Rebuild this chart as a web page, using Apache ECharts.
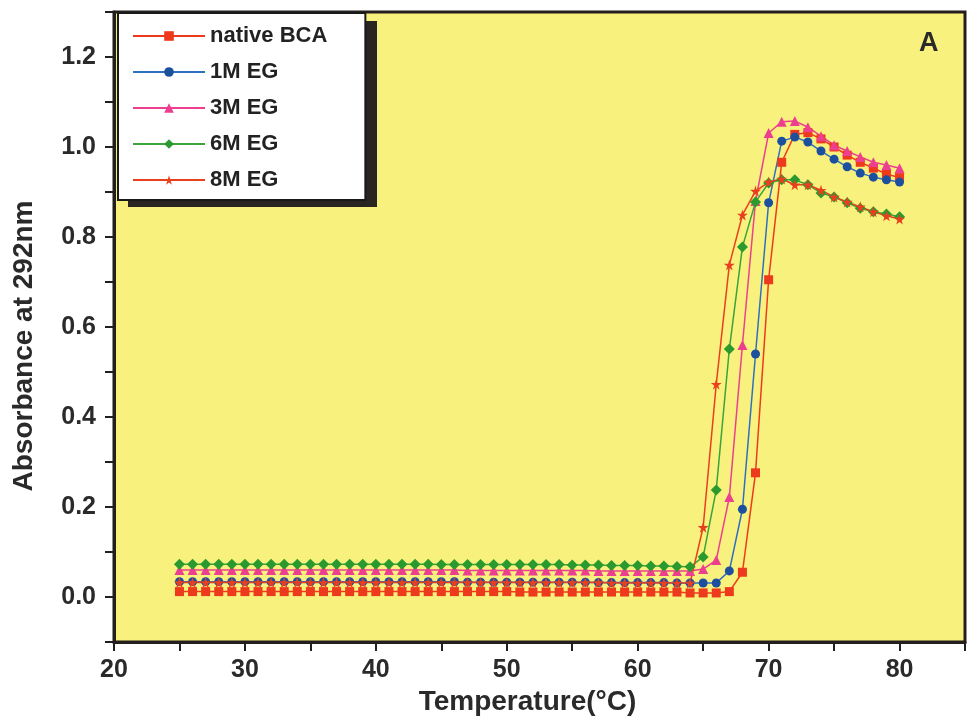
<!DOCTYPE html>
<html>
<head>
<meta charset="utf-8">
<script src="https://cdn.jsdelivr.net/npm/echarts@6/dist/echarts.min.js"></script>
<style>
  html, body { margin: 0; padding: 0; background: #fff; }
  #chart { width: 969px; height: 728px; }
</style>
</head>
<body>
<div id="chart"></div>
<script>
// temperature scan, 1 degree steps
var temps = [
    25, 26, 27, 28, 29, 30, 31, 32, 33, 34,
    35, 36, 37, 38, 39, 40, 41, 42, 43, 44,
    45, 46, 47, 48, 49, 50, 51, 52, 53, 54,
    55, 56, 57, 58, 59, 60, 61, 62, 63, 64,
    65, 66, 67, 68, 69, 70, 71, 72, 73, 74,
    75, 76, 77, 78, 79, 80
]

var native_bca = [
    0.012, 0.012, 0.012, 0.012, 0.012, 0.012, 0.012, 0.012, 0.012, 0.012,
    0.012, 0.012, 0.012, 0.012, 0.012, 0.012, 0.012, 0.012, 0.012, 0.012,
    0.012, 0.012, 0.012, 0.012, 0.012, 0.012, 0.011, 0.011, 0.011, 0.011,
    0.011, 0.011, 0.011, 0.011, 0.011, 0.011, 0.011, 0.011, 0.011, 0.009,
    0.009, 0.009, 0.012, 0.055, 0.276, 0.705, 0.966, 1.028, 1.032, 1.018,
    1.000, 0.982, 0.966, 0.953, 0.940, 0.932
]

var eg_1m = [
    0.034, 0.034, 0.034, 0.034, 0.034, 0.034, 0.034, 0.034, 0.034, 0.034,
    0.034, 0.034, 0.034, 0.034, 0.034, 0.034, 0.034, 0.034, 0.034, 0.034,
    0.034, 0.034, 0.033, 0.033, 0.033, 0.033, 0.033, 0.033, 0.033, 0.033,
    0.033, 0.033, 0.032, 0.032, 0.032, 0.032, 0.032, 0.032, 0.031, 0.031,
    0.031, 0.031, 0.058, 0.195, 0.540, 0.876, 1.013, 1.022, 1.011, 0.991,
    0.973, 0.956, 0.942, 0.933, 0.927, 0.922
]

var eg_3m = [
    0.060, 0.060, 0.060, 0.060, 0.060, 0.060, 0.060, 0.060, 0.060, 0.060,
    0.060, 0.060, 0.060, 0.060, 0.060, 0.060, 0.060, 0.060, 0.060, 0.060,
    0.060, 0.060, 0.059, 0.059, 0.059, 0.059, 0.059, 0.059, 0.059, 0.059,
    0.059, 0.059, 0.058, 0.058, 0.058, 0.058, 0.058, 0.058, 0.058, 0.058,
    0.062, 0.082, 0.222, 0.560, 0.880, 1.031, 1.056, 1.058, 1.044, 1.024,
    1.004, 0.991, 0.978, 0.966, 0.960, 0.953
]

var eg_6m = [
    0.073, 0.073, 0.073, 0.073, 0.073, 0.073, 0.073, 0.073, 0.073, 0.073,
    0.073, 0.073, 0.073, 0.073, 0.073, 0.073, 0.073, 0.073, 0.073, 0.073,
    0.072, 0.072, 0.072, 0.072, 0.072, 0.072, 0.072, 0.072, 0.072, 0.072,
    0.071, 0.071, 0.071, 0.070, 0.070, 0.070, 0.069, 0.069, 0.068, 0.067,
    0.089, 0.238, 0.551, 0.778, 0.878, 0.920, 0.927, 0.927, 0.916, 0.898,
    0.889, 0.876, 0.864, 0.856, 0.851, 0.845
]

var eg_8m = [
    0.032, 0.032, 0.032, 0.032, 0.032, 0.032, 0.032, 0.032, 0.032, 0.032,
    0.032, 0.032, 0.032, 0.032, 0.032, 0.032, 0.032, 0.032, 0.032, 0.032,
    0.032, 0.032, 0.032, 0.032, 0.032, 0.032, 0.032, 0.032, 0.032, 0.032,
    0.032, 0.032, 0.032, 0.031, 0.031, 0.031, 0.031, 0.031, 0.031, 0.031,
    0.155, 0.473, 0.738, 0.849, 0.902, 0.922, 0.929, 0.916, 0.916, 0.904,
    0.889, 0.878, 0.867, 0.856, 0.847, 0.840
]

var series_names = ['native BCA', '1M EG', '3M EG', '6M EG', '8M EG']

var star = 'path://M50,0 L61,35 L98,35 L68,57 L79,91 L50,70 L21,91 L32,57 L2,35 L39,35 Z'
var font = 'Liberation Sans, Arial, sans-serif'

function pairs(ys) {
    return temps.map(function (t, i) {
        return [t, ys[i]];
    });
}

function make_series(name, ys, symbol, size, color, lineColor) {
    return {
        name: name,
        type: 'line',
        data: pairs(ys),
        symbol: symbol,
        symbolSize: size,
        showAllSymbol: true,
        itemStyle: {color: color},
        lineStyle: {color: lineColor, width: 1.5},
        emphasis: {disabled: true},
        animation: false
    };
}

var option = {
    backgroundColor: '#ffffff',
    textStyle: {fontFamily: font},
    grid: {
        left: 114,
        right: 4,
        top: 12,
        bottom: 86,
        outerBoundsMode: 'none',
        show: true,
        backgroundColor: '#f8f17d',
        borderColor: '#231f1c',
        borderWidth: 3
    },
    legend: {
        orient: 'vertical',
        left: 118,
        top: 13,
        z: 5,
        padding: [11, 38, 8, 14],
        itemGap: 12,
        itemWidth: 72,
        itemHeight: 12,
        backgroundColor: '#ffffff',
        borderColor: '#1a1a1a',
        borderWidth: 2,
        textStyle: {
            fontSize: 22,
            fontWeight: 'bold',
            color: '#222',
            fontFamily: font,
            lineHeight: 24
        },
        data: series_names
    },
    xAxis: {
        type: 'value',
        min: 20,
        max: 85,
        interval: 5,
        name: 'Temperature(°C)',
        nameLocation: 'middle',
        nameGap: 46,
        nameTextStyle: {fontSize: 28, fontWeight: 'bold', color: '#2a2a2a', fontFamily: font, padding: [0, 24, 0, 0]},
        axisLine: {onZero: false, lineStyle: {color: '#231f1c', width: 3}},
        axisTick: {show: true, length: 9, lineStyle: {color: '#231f1c', width: 2}},
        axisLabel: {
            fontSize: 25,
            fontWeight: 'bold',
            color: '#2a2a2a',
            margin: 16,
            formatter: function (v) {
                return v % 10 === 0 ? String(v) : '';
            }
        },
        splitLine: {show: false}
    },
    yAxis: {
        type: 'value',
        min: -0.1,
        max: 1.3,
        interval: 0.1,
        name: 'Absorbance at 292nm',
        nameLocation: 'middle',
        nameGap: 76,
        nameTextStyle: {fontSize: 28, fontWeight: 'bold', color: '#2a2a2a', fontFamily: font, padding: [0, 38, 0, 0]},
        axisLine: {onZero: false, lineStyle: {color: '#231f1c', width: 3}},
        axisTick: {show: true, length: 9, lineStyle: {color: '#231f1c', width: 2}},
        axisLabel: {
            fontSize: 25,
            fontWeight: 'bold',
            color: '#2a2a2a',
            margin: 18,
            formatter: function (v) {
                var k = Math.round(v * 10);
                return k % 2 === 0 ? (k / 10).toFixed(1) : '';
            }
        },
        splitLine: {show: false}
    },
    graphic: [
        {
            // legend drop shadow
            type: 'rect',
            z: 4,
            shape: {x: 128, y: 21, width: 249, height: 186},
            style: {fill: '#2a2520'}
        },
        {
            type: 'text',
            left: 919,
            top: 30,
            style: {text: 'A', fontSize: 27, fontWeight: 'bold', fill: '#2a2a2a', fontFamily: font}
        }
    ],
    series: [
        make_series(series_names[0], native_bca, 'rect', 9, '#ee3a1c', '#ee3a1c'),
        make_series(series_names[1], eg_1m, 'circle', 9, '#1d4f9f', '#2f6fc0'),
        make_series(series_names[2], eg_3m, 'triangle', 10, '#ec3f8f', '#ec3f8f'),
        make_series(series_names[3], eg_6m, 'diamond', 11, '#2a9a2f', '#3aa43a'),
        make_series(series_names[4], eg_8m, star, 11, '#e8401e', '#e8401e')
    ]
};

var chart = echarts.init(document.getElementById('chart'), null, {renderer: 'canvas'});
chart.setOption(option);
</script>
</body>
</html>
